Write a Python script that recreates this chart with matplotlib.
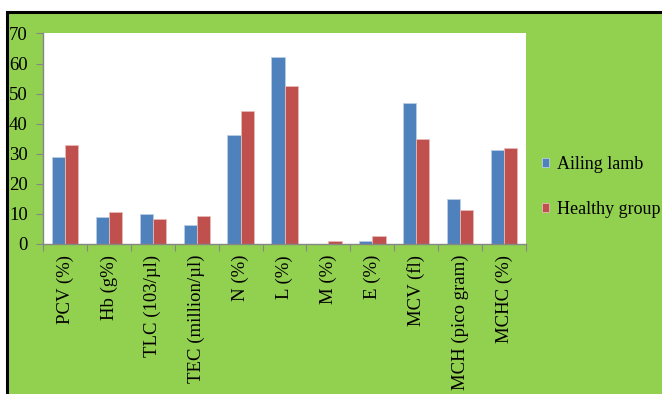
import numpy as np
import matplotlib
matplotlib.use("Agg")
import matplotlib.pyplot as plt
from matplotlib.patches import Rectangle

# Blood parameters, ailing vs healthy lambs
categories = ["PCV (%)", "Hb (g%)", "TLC (103/µl)", "TEC (million/µl)", "N (%)",
              "L (%)", "M (%)", "E (%)", "MCV (fl)", "MCH (pico gram)", "MCHC (%)"]
ailing = [28.9, 9.1, 10.1, 6.4, 36.1, 62.1, 0.0, 0.9, 46.8, 14.8, 31.2]
healthy = [32.8, 10.5, 8.3, 9.3, 44.1, 52.5, 0.8, 2.6, 34.9, 11.2, 32.0]
yticks = [0, 10, 20, 30, 40, 50, 60, 70]

plt.rcParams['font.family'] = ['Liberation Serif', 'DejaVu Serif']

fig = plt.figure(figsize=(6.62, 3.94), dpi=100)
fig.patch.set_facecolor("white")

# green chart area with black frame, drawn on a background axes
bgax = fig.add_axes([0, 0, 1, 1], zorder=-1)
bgax.set_axis_off()
bgax.set_xlim(0, 1)
bgax.set_ylim(0, 1)
bgax.add_patch(Rectangle((0.0105, -0.1), 1.2, 1.07, facecolor="#92D050",
                         edgecolor="black", linewidth=2.2, clip_on=False))

ax = fig.add_axes([0.065, 0.381, 0.7296, 0.534])
ax.set_facecolor("white")

x = np.arange(len(categories))
w = 0.3
ax.bar(x - w / 2, ailing, w, color="#4F81BD", edgecolor="#B9CDE5", linewidth=0.6, label="Ailing lamb")
ax.bar(x + w / 2, healthy, w, color="#C0504D", edgecolor="#E6B9B8", linewidth=0.6, label="Healthy group")

ax.set_xlim(-0.5, len(categories) - 0.5)
ax.set_ylim(0, 70)
ax.set_yticks(yticks)
ax.set_yticklabels([str(v) for v in yticks], fontsize=13.5)
ax.set_xticks(np.arange(len(categories) + 1) - 0.5)
ax.set_xticklabels([])
ax.set_xticks(x, minor=True)
ax.set_xticklabels(categories, minor=True, rotation=90, fontsize=13.5)
ax.tick_params(axis="x", which="minor", length=0, pad=8)
ax.tick_params(axis="x", which="major", length=5, color="#868686", direction="out")
ax.tick_params(axis="y", length=5, color="#868686", direction="out", pad=6)

for s in ["top", "right"]:
    ax.spines[s].set_visible(False)
for s in ["left", "bottom"]:
    ax.spines[s].set_color("#868686")
    ax.spines[s].set_linewidth(1.0)

fig.legend(loc="center left", bbox_to_anchor=(0.818, 0.526), frameon=False,
           fontsize=13, handlelength=0.42, handleheight=0.42, handletextpad=0.45,
           labelspacing=1.55, borderaxespad=0, borderpad=0)

fig.savefig("out.png", dpi=100)
